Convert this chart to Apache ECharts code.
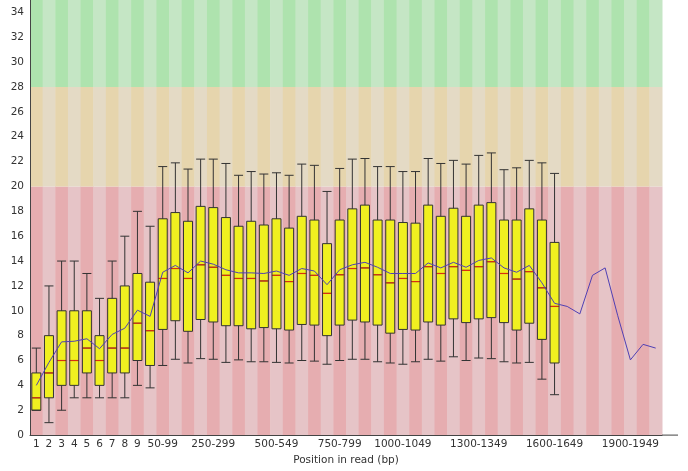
<!DOCTYPE html>
<html>
<head>
<meta charset="utf-8">
<script src="https://cdn.jsdelivr.net/npm/echarts@6/dist/echarts.min.js"></script>
<style>
html,body{margin:0;padding:0;background:#fff;}
#c{width:688px;height:471px;}
</style>
</head>
<body>
<div id="c"></div>
<script>
const categories = ['1','2','3','4','5','6','7','8','9','10-49','50-99','100-149','150-199','200-249','250-299','300-349','350-399','400-449','450-499','500-549','550-599','600-649','650-699','700-749','750-799','800-849','850-899','900-949','950-999','1000-1049','1050-1099','1100-1149','1150-1199','1200-1249','1250-1299','1300-1349','1350-1399','1400-1449','1450-1499','1500-1549','1550-1599','1600-1649','1650-1699','1700-1749','1750-1799','1800-1849','1850-1899','1900-1949','1950-1999','2000-2049'];
const shownLabels = ['1','2','3','4','5','6','7','8','9','50-99','250-299','500-549','750-799','1000-1049','1300-1349','1600-1649','1900-1949'];

// per-position box statistics (10th pct, Q1, median, Q3, 90th pct)
const whiskerLow = [2,1,2,3,3,3,3,3,4,3.8,5.6,6.1,5.8,6.15,6.1,5.85,6.05,5.9,5.9,5.85,5.8,6.0,5.95,5.7,6.0,6.1,6.1,5.9,5.8,5.7,5.9,6.1,5.95,6.3,6.0,6.2,6.15,5.9,5.8,5.85,4.5,3.25];
const lowerQuartile = [2,3,4,4,5,4,5,5,6,5.6,8.5,9.2,8.35,9.3,9.1,8.8,8.8,8.55,8.65,8.55,8.45,8.9,8.85,8.0,8.85,9.25,9.1,8.85,8.2,8.5,8.45,9.1,8.85,9.35,9.05,9.35,9.45,9.05,8.45,9.0,7.7,5.8];
const medianVals = [3,5,6,6,7,6,7,7,9,8.4,12.6,13.4,12.6,13.7,13.5,12.85,12.6,12.6,12.4,12.85,12.35,13.0,12.85,11.4,12.9,13.4,13.45,12.9,12.25,12.6,12.35,13.55,13.0,13.55,13.25,13.55,13.95,13.0,12.55,13.15,11.85,10.35];
const upperQuartile = [5,8,10,10,10,8,11,12,13,12.3,17.4,17.9,17.2,18.4,18.3,17.5,16.8,17.2,16.9,17.4,16.65,17.6,17.3,15.4,17.3,18.2,18.5,17.3,17.3,17.1,17.05,18.5,17.6,18.25,17.6,18.5,18.7,17.3,17.3,18.2,17.3,15.5];
const whiskerHigh = [7,12,14,14,13,11,14,16,18,16.8,21.6,21.9,21.4,22.2,22.2,21.85,20.9,21.2,21.0,21.1,20.9,21.8,21.7,19.6,21.45,22.2,22.25,21.6,21.6,21.2,21.2,22.25,21.85,22.1,21.8,22.5,22.7,21.35,21.5,22.1,21.9,21.05];
const meanVals = [4.0,5.85,7.5,7.55,7.75,6.95,8.1,8.6,10.05,9.55,13.1,13.65,13.05,14.0,13.75,13.3,13.05,13.05,13.0,13.2,12.85,13.4,13.2,12.1,13.3,13.7,13.9,13.5,13.0,13.0,13.0,13.85,13.45,13.9,13.5,14.05,14.25,13.45,13.1,13.65,12.25,10.6,10.35,9.75,12.85,13.45,9.6,6.05,7.3,7.0];

// quality zone boundaries and colours (dark, light stripe)
const zoneBreaks = [0,20,28,35];
const zoneColors = [['#E6ADB0','#E6C4C7'],['#E6D5AD','#E4DAC5'],['#AEE3AE','#C5E6C5']];

const FONT = 'DejaVu Sans';
const chart = echarts.init(document.getElementById('c'), null, {renderer:'canvas'});

const boxData = whiskerLow.map((v,i)=>[v, lowerQuartile[i], medianVals[i], upperQuartile[i], whiskerHigh[i]]);

const option = {
  animation:false,
  grid:{left:30, right:26, top:0, bottom:35},
  xAxis:{
    type:'category', data:categories, boundaryGap:true,
    axisLine:{show:true, lineStyle:{color:'#444', width:1}},
    axisTick:{show:false},
    splitLine:{show:false},
    axisLabel:{
      interval:(idx, val)=>shownLabels.indexOf(val) >= 0,
      fontFamily:FONT, fontSize:10.5, color:'#333', margin:4, hideOverlap:false
    },
    name:'Position in read (bp)', nameLocation:'middle', nameGap:19,
    nameTextStyle:{fontFamily:FONT, fontSize:10.5, color:'#333'}
  },
  yAxis:{
    type:'value', min:0, max:35, interval:2,
    axisLine:{show:true, lineStyle:{color:'#444', width:1}},
    axisTick:{show:false},
    splitLine:{show:false},
    axisLabel:{fontFamily:FONT, fontSize:10.5, color:'#333', margin:6, showMaxLabel:false}
  },
  series:[
    {
      type:'custom', silent:true, z:0,
      data:categories.map((c,i)=>[i,0]),
      encode:{x:0,y:1},
      renderItem:(params, api)=>{
        const idx = api.value(0);
        const cx = api.coord([idx,0])[0];
        const w = api.size([1,0])[0];
        const children = [];
        for(let b=0;b<zoneColors.length;b++){
          const yTop = api.coord([idx, zoneBreaks[b+1]])[1];
          const yBot = api.coord([idx, zoneBreaks[b]])[1];
          children.push({type:'rect', shape:{x:cx-w/2, y:yTop, width:w+0.5, height:yBot-yTop},
            style:{fill: zoneColors[b][idx%2]}});
        }
        return {type:'group', children};
      }
    },
    {
      type:'boxplot', z:2,
      data:boxData,
      boxWidth:[9,9],
      itemStyle:{color:'#F0F020', borderColor:'#333', borderWidth:1},
      emphasis:{disabled:true},
      silent:true
    },
    {
      type:'custom', silent:true, z:3,
      data:medianVals.map((v,i)=>[i,v]),
      encode:{x:0,y:1},
      renderItem:(params, api)=>{
        const p = api.coord([api.value(0), api.value(1)]);
        return {type:'line', shape:{x1:p[0]-4, y1:p[1], x2:p[0]+4, y2:p[1]},
          style:{stroke:'#D83010', lineWidth:1.2}};
      }
    },
    {
      type:'line', z:4,
      data:meanVals,
      symbol:'none',
      lineStyle:{color:'#5040b4', width:1},
      silent:true
    }
  ]
};
chart.setOption(option);

// extend x axis line slightly beyond the plot, as in the original
const xLast = chart.convertToPixel({xAxisIndex:0}, categories.length-1);
const xPrev = chart.convertToPixel({xAxisIndex:0}, categories.length-2);
const yZero = chart.convertToPixel({yAxisIndex:0}, 0);
const xEnd = xLast + (xLast - xPrev)/2;
chart.setOption({graphic:[{type:'line', shape:{x1:xEnd, y1:yZero, x2:xEnd+16, y2:yZero}, style:{stroke:'#444', lineWidth:1}, silent:true}]});
</script>
</body>
</html>
